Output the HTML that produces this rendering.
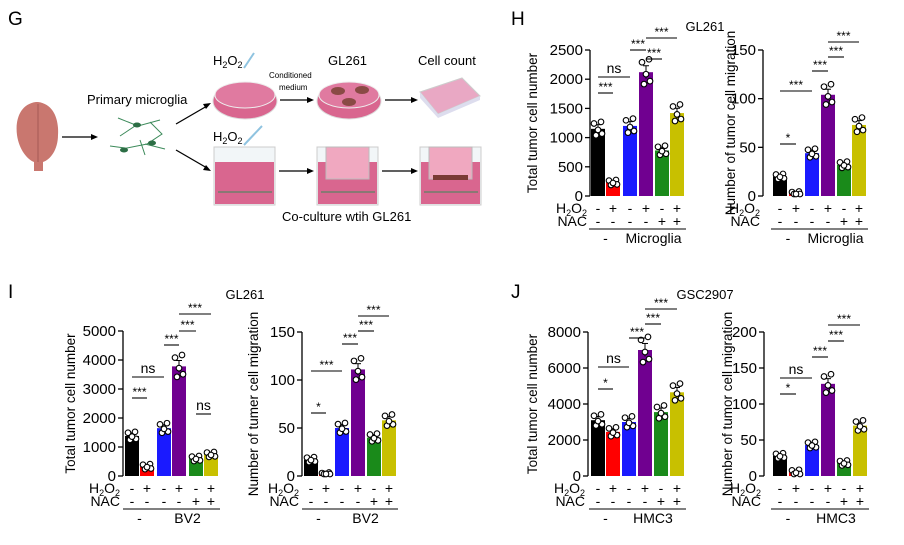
<!DOCTYPE html><html><head><meta charset="utf-8"><style>body{margin:0;background:#fff}svg{display:block;font-family:"Liberation Sans",Arial,sans-serif}</style></head><body>
<svg id="s" width="904" height="545" viewBox="0 0 904 545" xmlns="http://www.w3.org/2000/svg">
<text x="8" y="25" font-size="19">G</text>
<text x="511" y="25" font-size="19">H</text>
<text x="8" y="298" font-size="19">I</text>
<text x="511" y="298" font-size="19">J</text>
<text x="705" y="31" font-size="13" text-anchor="middle">GL261</text>
<text x="245" y="299" font-size="13" text-anchor="middle">GL261</text>
<text x="705" y="299" font-size="13" text-anchor="middle">GSC2907</text>
<g>
<path d="M36 102 C20 104 15 120 17 135 C19 150 28 160 34 162 L34 171 L43 171 L43 162 C50 160 58 150 58 135 C59 120 54 104 38 102Z" fill="#c9776f"/>
<line x1="38" y1="104" x2="38" y2="162" stroke="#a55a55" stroke-width="1"/>
<line x1="62" y1="137" x2="95" y2="137" stroke="#000" stroke-width="1.3"/><path d="M98 137 l-7 -3 v6z"/>
<text x="87" y="104" font-size="13">Primary microglia</text>
<g stroke="#3c8a5a" stroke-width="1" fill="none">
<path d="M118 118 l20 8 l22 -6 M135 126 l-15 10 M150 122 l12 12 l-15 10 l-25 5 M145 144 l20 5 M125 148 l-15 -2 M140 140 l5 15"/>
</g>
<ellipse cx="137" cy="125" rx="4" ry="2.5" fill="#2c6e45"/><ellipse cx="124" cy="150" rx="4" ry="2.5" fill="#2c6e45"/><ellipse cx="152" cy="143" rx="4" ry="2.5" fill="#2c6e45"/>
<line x1="176" y1="124" x2="207" y2="106" stroke="#000" stroke-width="1.3"/><path d="M211 103 l-8 1 l3 5z"/>
<line x1="176" y1="150" x2="207" y2="168" stroke="#000" stroke-width="1.3"/><path d="M211 171 l-8 -1 l3 -5z"/>
<text x="213" y="65" font-size="13">H<tspan font-size="9" dy="3">2</tspan><tspan dy="-3">O</tspan><tspan font-size="9" dy="3">2</tspan></text>
<line x1="244" y1="68" x2="254" y2="53" stroke="#8fc3e0" stroke-width="2"/>
<ellipse cx="245" cy="101" rx="32" ry="18" fill="#d9668f" stroke="#ddd"/><ellipse cx="245" cy="95" rx="30" ry="13" fill="#e07aa0" stroke="#eee"/>
<text x="269" y="78" font-size="8">Conditioned</text><text x="279" y="90" font-size="8">medium</text>
<line x1="280" y1="100" x2="308" y2="100" stroke="#000" stroke-width="1.3"/><path d="M314 100 l-7 -3 v6z"/>
<text x="328" y="65" font-size="13">GL261</text>
<ellipse cx="349" cy="101" rx="32" ry="18" fill="#d9668f" stroke="#ddd"/><ellipse cx="349" cy="95" rx="30" ry="13" fill="#e07aa0" stroke="#eee"/>
<ellipse cx="338" cy="91" rx="7" ry="4" fill="#8a4a45"/><ellipse cx="362" cy="90" rx="7" ry="4" fill="#8a4a45"/><ellipse cx="349" cy="102" rx="7" ry="4" fill="#8a4a45"/>
<line x1="385" y1="100" x2="412" y2="100" stroke="#000" stroke-width="1.3"/><path d="M418 100 l-7 -3 v6z"/>
<text x="418" y="65" font-size="13">Cell count</text>
<path d="M420 92 L462 78 L480 96 L438 114Z" fill="#e9a8c4" stroke="#ccc"/><path d="M420 92 L420 98 L438 118 L480 100 L480 96 L438 114Z" fill="#dde"/>
<text x="213" y="141" font-size="13">H<tspan font-size="9" dy="3">2</tspan><tspan dy="-3">O</tspan><tspan font-size="9" dy="3">2</tspan></text>
<line x1="244" y1="145" x2="262" y2="126" stroke="#8fc3e0" stroke-width="2"/>
<rect x="214" y="147" width="61" height="58" fill="#f2f6f8" stroke="#ccc"/><rect x="215" y="162" width="59" height="42" fill="#d9668f"/>
<rect x="317" y="147" width="61" height="58" fill="#f2f6f8" stroke="#ccc"/><rect x="318" y="162" width="59" height="42" fill="#d9668f"/>
<rect x="326" y="147" width="43" height="32" fill="#f0a8c0" stroke="#bbb"/>
<rect x="420" y="147" width="61" height="58" fill="#f2f6f8" stroke="#ccc"/><rect x="421" y="162" width="59" height="42" fill="#d9668f"/>
<rect x="429" y="147" width="43" height="32" fill="#f0a8c0" stroke="#bbb"/><rect x="433" y="175" width="35" height="5" fill="#7a3a35"/>
<g stroke="#3c8a5a"><line x1="218" y1="192" x2="272" y2="192"/><line x1="321" y1="192" x2="375" y2="192"/><line x1="424" y1="192" x2="478" y2="192"/></g>
<line x1="279" y1="171" x2="308" y2="171" stroke="#000" stroke-width="1.3"/><path d="M314 171 l-7 -3 v6z"/>
<line x1="382" y1="171" x2="412" y2="171" stroke="#000" stroke-width="1.3"/><path d="M418 171 l-7 -3 v6z"/>
<text x="282" y="221" font-size="13">Co-culture wtih GL261</text>
</g>
</svg>
<script>
const S=document.getElementById('s');let h='';
const cols=['#000','#f00','#1a1aff','#700090','#1a8a1a','#c8c000'];
function chart(o){
 const {ax,top,zero,max,ticks,cx,vals,ylab,ylx,grp,sig}=o;
 const sc=v=>zero-(v/max)*(zero-top);
 h+=`<line x1="${ax}" y1="${top}" x2="${ax}" y2="${zero}" stroke="#000" stroke-width="1.3"/>`;
 ticks.forEach(t=>{const y=sc(t);h+=`<line x1="${ax-5}" y1="${y}" x2="${ax}" y2="${y}" stroke="#000" stroke-width="1.3"/><text x="${ax-7}" y="${y+5}" font-size="15" text-anchor="end">${t}</text>`;});
 cx.forEach((c,i)=>{const y=sc(vals[i]);h+=`<rect x="${c-7}" y="${y}" width="14" height="${zero-y}" fill="${cols[i]}"/>`;
  const e=(zero-y)*0.04+1.5;h+=`<line x1="${c}" y1="${y-e}" x2="${c}" y2="${y+e}" stroke="#000"/><line x1="${c-3}" y1="${y-e}" x2="${c+3}" y2="${y-e}" stroke="#000"/>`;
  const sp=Math.max(2,(zero-y)*0.08);
  [[-4,-1],[3,-1.3],[-2,1.2],[4,0.9],[0,0.2]].forEach(([dx,dy])=>{h+=`<circle cx="${c+dx}" cy="${Math.min(zero-2,y+dy*sp)}" r="2.8" fill="#fff" stroke="#000" stroke-width="1.1"/>`;});});
 h+=`<text transform="translate(${ylx},${(top+zero)/2}) rotate(-90)" font-size="13.5" text-anchor="middle">${ylab}</text>`;
 const r1=zero+12,r2=zero+26;
 h+=`<text x="${ax-3}" y="${r1+5}" font-size="14" text-anchor="end">H<tspan font-size="9" dy="3">2</tspan><tspan dy="-3">O</tspan><tspan font-size="9" dy="3">2</tspan></text>`;
 h+=`<text x="${ax-3}" y="${r2+4}" font-size="14" text-anchor="end">NAC</text>`;
 const a=['-','+','-','+','-','+'],b=['-','-','-','-','+','+'];
 cx.forEach((c,i)=>{h+=`<text x="${c}" y="${r1+5}" font-size="14" text-anchor="middle">${a[i]}</text><text x="${c}" y="${r2+4}" font-size="14" text-anchor="middle">${b[i]}</text>`;});
 const ly=zero+33;
 h+=`<line x1="${cx[0]-9}" y1="${ly}" x2="${cx[1]+9}" y2="${ly}" stroke="#000"/><line x1="${cx[2]-9}" y1="${ly}" x2="${cx[5]+9}" y2="${ly}" stroke="#000"/>`;
 h+=`<text x="${(cx[0]+cx[1])/2}" y="${ly+14}" font-size="14" text-anchor="middle">-</text><text x="${(cx[2]+cx[5])/2}" y="${ly+14}" font-size="14" text-anchor="middle">${grp}</text>`;
 sig.forEach(([i,j,y,t])=>{h+=`<line x1="${cx[i]}" y1="${y}" x2="${cx[j]}" y2="${y}" stroke="#000" stroke-width="1.1"/><text x="${(cx[i]+cx[j])/2}" y="${y-(t[0]=='*'?2:4)}" font-size="${t[0]=='*'?12:14}" text-anchor="middle">${t}</text>`;});
}
chart({ax:590,top:50,zero:196,max:2500,ticks:[0,500,1000,1500,2000,2500],cx:[598,613,630,646,662,677],vals:[1150,230,1200,2120,780,1420],ylab:'Total tumor cell number',ylx:537,grp:'Microglia',
 sig:[[0,1,93,'***'],[0,2,77,'ns'],[2,3,50,'***'],[3,4,59,'***'],[3,5,38,'***']]});
chart({ax:763,top:50,zero:196,max:150,ticks:[0,50,100,150],cx:[780,796,812,828,844,859],vals:[20,2,44,104,32,73],ylab:'Number of tumor cell migration',ylx:735,grp:'Microglia',
 sig:[[0,1,144,'*'],[0,2,91,'***'],[2,3,71,'***'],[3,4,57,'***'],[3,5,42,'***']]});
chart({ax:123,top:331,zero:476,max:5000,ticks:[0,1000,2000,3000,4000,5000],cx:[132,147,164,179,196,211],vals:[1380,320,1650,3780,600,740],ylab:'Total tumor cell number',ylx:75,grp:'BV2',
 sig:[[0,1,398,'***'],[0,2,377,'ns'],[2,3,345,'***'],[3,4,331,'***'],[3,5,314,'***'],[4,5,414,'ns']]});
chart({ax:302,top:332,zero:476,max:150,ticks:[0,50,100,150],cx:[311,326,342,358,374,389],vals:[17,1,50,111,40,58],ylab:'Number of tumer cell migration',ylx:258,grp:'BV2',
 sig:[[0,1,413,'*'],[0,2,371,'***'],[2,3,344,'***'],[3,4,331,'***'],[3,5,316,'***']]});
chart({ax:588,top:332,zero:476,max:8000,ticks:[0,2000,4000,6000,8000],cx:[598,613,629,645,661,677],vals:[3100,2450,3000,7000,3550,4650],ylab:'Total tumor cell number',ylx:537,grp:'HMC3',
 sig:[[0,1,389,'*'],[0,2,367,'ns'],[2,3,338,'***'],[3,4,324,'***'],[3,5,309,'***']]});
chart({ax:764,top:332,zero:476,max:200,ticks:[0,50,100,150,200],cx:[780,796,812,828,844,860],vals:[28,5,43,128,18,70],ylab:'Number of tumor cell migration',ylx:732,grp:'HMC3',
 sig:[[0,1,394,'*'],[0,2,378,'ns'],[2,3,357,'***'],[3,4,341,'***'],[3,5,325,'***']]});
S.insertAdjacentHTML('beforeend',h);
</script>
</body></html>
